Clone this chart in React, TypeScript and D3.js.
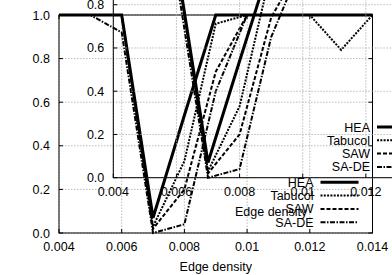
import * as d3 from 'd3'

// edge density sample points and success rate per algorithm
const edgeDensity = [0.004, 0.005, 0.006, 0.007, 0.008, 0.009, 0.01, 0.011, 0.012, 0.013, 0.014]
const hea = [1, 1, 1, 0.07, 0.54, 1, 1, 1, 1, 1, 1]
const tabucol = [1, 1, 1, 0.03, 0.33, 0.96, 1, 1, 1, 0.84, 1]
const saw = [1, 1, 1, 0.02, 0.2, 0.74, 1, 1, 1, 1, 1]
const sade = [1, 1, 0.92, 0, 0.04, 0.65, 1, 1, 1, 1, 1]

const xTicks = [0.004, 0.006, 0.008, 0.01, 0.012, 0.014]
const yTicks = [0, 0.2, 0.4, 0.6, 0.8, 1.0]

const series = [
  { name: 'HEA', values: hea, width: 3, dash: 'none' },
  { name: 'Tabucol', values: tabucol, width: 2, dash: '2,1.3' },
  { name: 'SAW', values: saw, width: 2, dash: '4,2' },
  { name: 'SA-DE', values: sade, width: 2, dash: '5,1.5,1.5,1.5' },
]

const font = '"Liberation Sans", Arial, Helvetica, sans-serif'

function Panel({ x0, x1, y0, y1 }: { x0: number; x1: number; y0: number; y1: number }) {
  const x = d3.scaleLinear().domain([0.004, 0.014]).range([x0, x1])
  const y = d3.scaleLinear().domain([0, 1]).range([y0, y1])
  const line = d3.line<number>()
    .x((_, i) => x(edgeDensity[i]))
    .y(d => y(d))
  const fy = d3.format('.1f')
  const tick = 4

  return (
    <g>
      {xTicks.map(t => (
        <line key={'gx' + t} x1={x(t)} x2={x(t)} y1={y0} y2={y1}
          stroke="#aaa" strokeWidth={0.8} strokeDasharray="1.5,1.5" />
      ))}
      {yTicks.map(t => (
        <line key={'gy' + t} x1={x0} x2={x1} y1={y(t)} y2={y(t)}
          stroke="#aaa" strokeWidth={0.8} strokeDasharray="1.5,1.5" />
      ))}
      <rect x={x0} y={y1} width={x1 - x0} height={y0 - y1} fill="none" stroke="#000" strokeWidth={1} />
      {xTicks.map(t => (
        <g key={'tx' + t}>
          <line x1={x(t)} x2={x(t)} y1={y0} y2={y0 - tick} stroke="#000" />
          <line x1={x(t)} x2={x(t)} y1={y1} y2={y1 + tick} stroke="#000" />
          <text x={x(t)} y={y0 + 18} textAnchor="middle" fontSize={12.5} fontFamily={font}>{String(t)}</text>
        </g>
      ))}
      {yTicks.map(t => (
        <g key={'ty' + t}>
          <line x1={x0} x2={x0 + tick} y1={y(t)} y2={y(t)} stroke="#000" />
          <line x1={x1} x2={x1 - tick} y1={y(t)} y2={y(t)} stroke="#000" />
          <text x={x0 - 9} y={y(t) + 4.5} textAnchor="end" fontSize={12.5} fontFamily={font}>{fy(t)}</text>
        </g>
      ))}
      <text x={(x0 + x1) / 2} y={y0 + 38} textAnchor="middle" fontSize={12.5} fontFamily={font}>Edge density</text>
      {series.map(s => (
        <path key={s.name} d={line(s.values) ?? ''} fill="none" stroke="#000"
          strokeWidth={s.width} strokeDasharray={s.dash} />
      ))}
      {series.map((s, i) => {
        const ry = y0 - 50.7 + i * 13.3
        return (
          <g key={'k' + s.name}>
            <text x={x1 - 59} y={ry + 4.5} textAnchor="end" fontSize={12.5} fontFamily={font}>{s.name}</text>
            <line x1={x1 - 52} x2={x1 - 14} y1={ry} y2={ry} stroke="#000"
              strokeWidth={s.width} strokeDasharray={s.dash} />
          </g>
        )
      })}
    </g>
  )
}

export default function App() {
  return (
    <svg width={392} height={275} style={{ position: 'absolute', left: 0, top: 0, background: '#fff' }}>
      <Panel x0={59} x1={372.5} y0={233} y1={15} />
      <Panel x0={113.3} x1={429} y0={177.7} y1={-38.5} />
    </svg>
  )
}
